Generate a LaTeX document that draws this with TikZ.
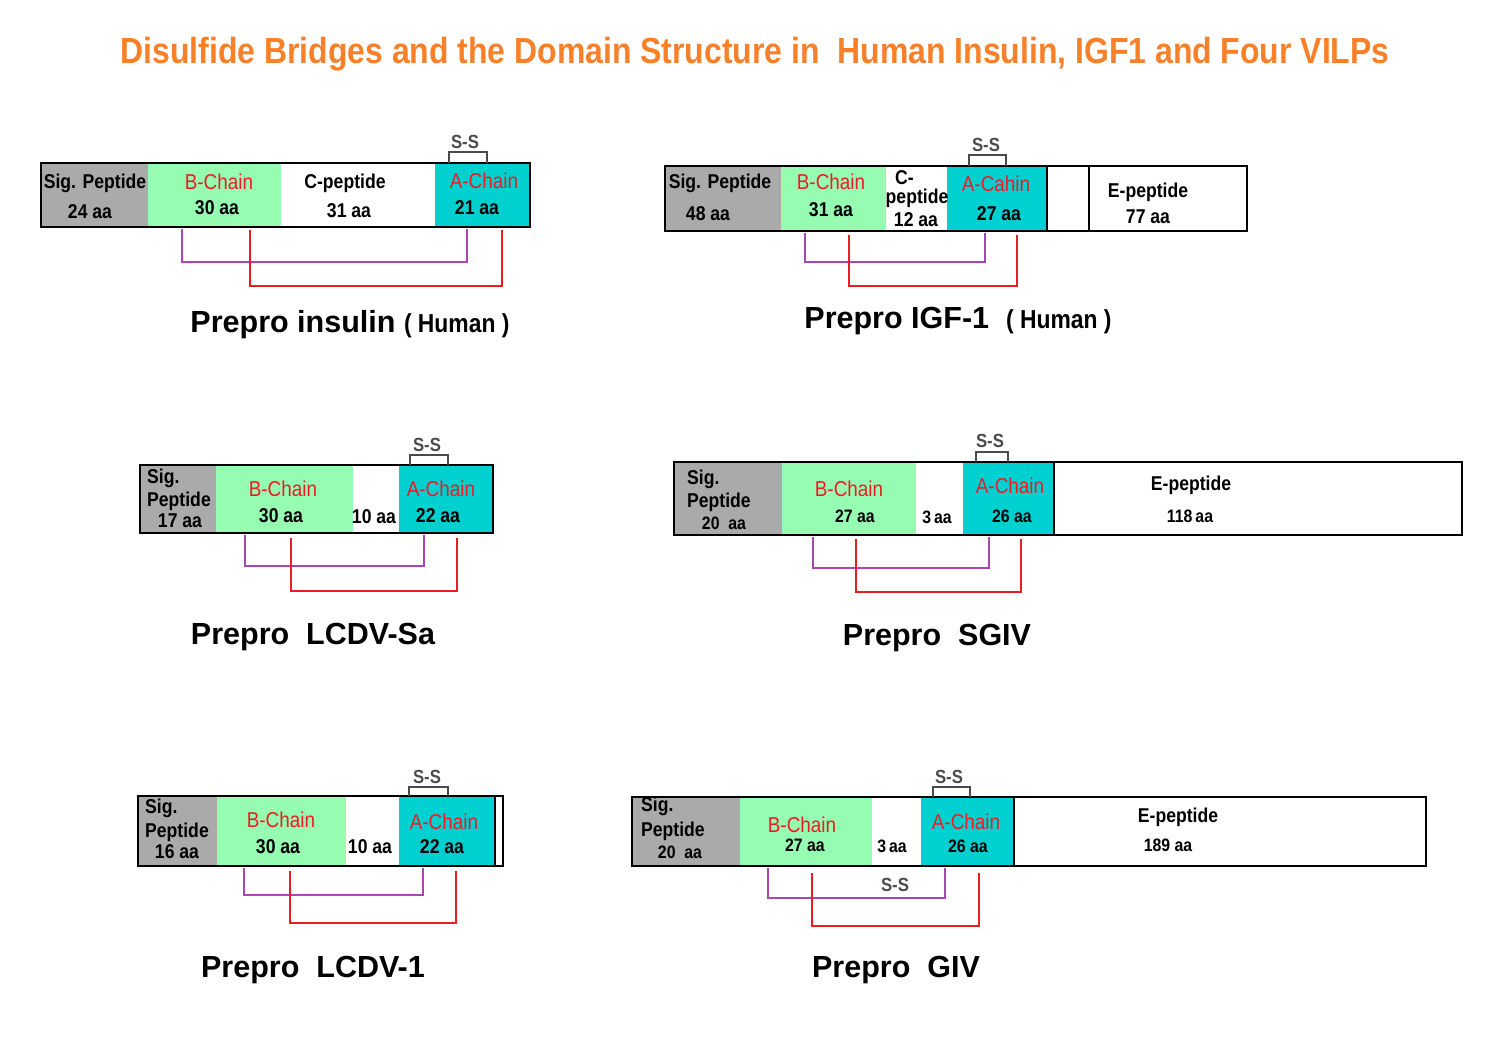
\documentclass[tikz,border=0pt]{standalone}
\usepackage{fontspec}
\setmainfont{Liberation Sans}
\newfontfamily\narrowfont{Liberation Sans}[FakeStretch=0.88]
\usetikzlibrary{positioning}
\definecolor{titleorange}{RGB}{248,128,40}
\definecolor{sigGray}{RGB}{170,170,170}
\definecolor{bGreen}{RGB}{150,252,178}
\definecolor{aCyan}{RGB}{0,208,208}
\definecolor{chainRed}{RGB}{236,28,36}
\definecolor{bondPurple}{RGB}{170,70,180}
\definecolor{bridgeGray}{RGB}{75,75,75}

\tikzset{
  seg/.style={inner sep=0pt, outer sep=0pt, anchor=north west},
  outline/.style={line width=2.6pt},
  sepline/.style={line width=2pt},
  lbl/.style={inner sep=0pt, font=\narrowfont\bfseries\fontsize{20}{22}\selectfont},
  smlbl/.style={inner sep=0pt, font=\narrowfont\bfseries\fontsize{18}{20}\selectfont},
  chain/.style={inner sep=0pt, text=chainRed, font=\narrowfont\fontsize{21.5}{23}\selectfont},
  sstext/.style={inner sep=0pt, text=bridgeGray, font=\narrowfont\bfseries\fontsize{19}{21}\selectfont},
  bracket/.style={draw=bridgeGray, line width=1.6pt},
  bondP/.style={draw=bondPurple, line width=2.3pt},
  bondR/.style={draw=chainRed, line width=2.3pt},
  protlbl/.style={inner sep=0pt, font=\bfseries\fontsize{30.5}{32}\selectfont},
}
\newcommand{\hostlbl}[1]{{\narrowfont\bfseries\fontsize{26}{28}\selectfont #1}}

\begin{document}
\begin{tikzpicture}[x=1pt, y=-1pt]
\useasboundingbox (0,0) rectangle (1500,1063);

% title
\node[text=titleorange, font=\narrowfont\bfseries\fontsize{36.3}{40}\selectfont] (title) at (755,54)
  {Disulfide Bridges and the Domain Structure in \ Human Insulin, IGF1 and Four VILPs};

% ---------------- Prepro insulin (Human)
\node[seg, fill=sigGray, minimum width=107pt, minimum height=64pt] (ins-sig) at (41,163) {};
\node[seg, fill=bGreen, minimum width=133pt, minimum height=64pt] (ins-b) at (148,163) {};
\node[seg, fill=white, minimum width=154pt, minimum height=64pt] (ins-c) at (281,163) {};
\node[seg, fill=aCyan, minimum width=95pt, minimum height=64pt] (ins-a) at (435,163) {};
\draw[outline] (ins-sig.north west) rectangle (ins-a.south east);
\node[lbl] (ins-sig1) at (95,183) {Sig. Peptide};
\node[lbl] (ins-sig2) at (90,212) {24 aa};
\node[chain] (ins-b1) at (219,182) {B-Chain};
\node[lbl] (ins-b2) at (217,208) {30 aa};
\node[lbl] (ins-c1) at (345,183) {C-peptide};
\node[lbl] (ins-c2) at (349,211) {31 aa};
\node[chain] (ins-a1) at (484,181) {A-Chain};
\node[lbl] (ins-a2) at (477,208) {21 aa};
% intra-chain bridge
\coordinate (ins-s1) at (449,163);
\coordinate (ins-s2) at (487,163);
\draw[bracket] (ins-s1) -- ++(0,-11) -| (ins-s2);
\node[sstext] (ins-ss) at (465,142) {S-S};
% inter-chain bridges
\coordinate (ins-cb1) at (182,229);
\coordinate (ins-ca1) at (467,229);
\coordinate (ins-cb2) at (250,230);
\coordinate (ins-ca2) at (502,230);
\draw[bondP] (ins-cb1) -- ++(0,33) -| (ins-ca1);
\draw[bondR] (ins-cb2) -- ++(0,56) -| (ins-ca2);
\node[protlbl] (ins-name) at (350,325) {Prepro insulin \hostlbl{( Human )}};

% ---------------- Prepro IGF-1 (Human)
\node[seg, fill=sigGray, minimum width=116pt, minimum height=65pt] (igf-sig) at (665,166) {};
\node[seg, fill=bGreen, minimum width=105pt, minimum height=65pt] (igf-b) at (781,166) {};
\node[seg, fill=white, minimum width=61pt, minimum height=65pt] (igf-c) at (886,166) {};
\node[seg, fill=aCyan, minimum width=100pt, minimum height=65pt] (igf-a) at (947,166) {};
\node[seg, fill=white, minimum width=42pt, minimum height=65pt] (igf-x) at (1047,166) {};
\node[seg, fill=white, minimum width=158pt, minimum height=65pt] (igf-e) at (1089,166) {};
\draw[sepline] (igf-a.north east) -- (igf-a.south east);
\draw[sepline] (igf-x.north east) -- (igf-x.south east);
\draw[outline] (igf-sig.north west) rectangle (igf-e.south east);
\node[lbl] (igf-sig1) at (720,183) {Sig. Peptide};
\node[lbl] (igf-sig2) at (708,214) {48 aa};
\node[chain] (igf-b1) at (831,182) {B-Chain};
\node[lbl] (igf-b2) at (831,210) {31 aa};
\node[lbl, anchor=west] (igf-c1) at (895,178) {C-};
\node[lbl] (igf-c2) at (917,198) {peptide};
\node[lbl] (igf-c3) at (916,220) {12 aa};
\node[chain] (igf-a1) at (996,184) {A-Cahin};
\node[lbl] (igf-a2) at (999,214) {27 aa};
\node[lbl] (igf-e1) at (1148,192) {E-peptide};
\node[lbl] (igf-e2) at (1148,217) {77 aa};
\coordinate (igf-s1) at (969,166);
\coordinate (igf-s2) at (1006,166);
\draw[bracket] (igf-s1) -- ++(0,-11) -| (igf-s2);
\node[sstext] (igf-ss) at (986,145) {S-S};
\coordinate (igf-cb1) at (805,233);
\coordinate (igf-ca1) at (985,233);
\coordinate (igf-cb2) at (849,235);
\coordinate (igf-ca2) at (1017,235);
\draw[bondP] (igf-cb1) -- ++(0,29) -| (igf-ca1);
\draw[bondR] (igf-cb2) -- ++(0,51) -| (igf-ca2);
\node[protlbl] (igf-name) at (958,321) {Prepro IGF-1 \ \hostlbl{( Human )}};

% ---------------- Prepro LCDV-Sa
\node[seg, fill=sigGray, minimum width=76pt, minimum height=68pt] (sa-sig) at (140,465) {};
\node[seg, fill=bGreen, minimum width=137pt, minimum height=68pt] (sa-b) at (216,465) {};
\node[seg, fill=white, minimum width=46pt, minimum height=68pt] (sa-c) at (353,465) {};
\node[seg, fill=aCyan, minimum width=94pt, minimum height=68pt] (sa-a) at (399,465) {};
\draw[outline] (sa-sig.north west) rectangle (sa-a.south east);
\node[lbl, anchor=west] (sa-sig1) at (147,478) {Sig.};
\node[lbl] (sa-sig2) at (179,501) {Peptide};
\node[lbl] (sa-sig3) at (180,521) {17 aa};
\node[chain] (sa-b1) at (283,489) {B-Chain};
\node[lbl] (sa-b2) at (281,516) {30 aa};
\node[lbl] (sa-c1) at (374,517) {10 aa};
\node[chain] (sa-a1) at (441,489) {A-Chain};
\node[lbl] (sa-a2) at (438,516) {22 aa};
\coordinate (sa-s1) at (410,465);
\coordinate (sa-s2) at (448,465);
\draw[bracket] (sa-s1) -- ++(0,-10) -| (sa-s2);
\node[sstext] (sa-ss) at (427,445) {S-S};
\coordinate (sa-cb1) at (245,535);
\coordinate (sa-ca1) at (424,535);
\coordinate (sa-cb2) at (291,538);
\coordinate (sa-ca2) at (457,538);
\draw[bondP] (sa-cb1) -- ++(0,31) -| (sa-ca1);
\draw[bondR] (sa-cb2) -- ++(0,53) -| (sa-ca2);
\node[protlbl] (sa-name) at (313,637) {Prepro \ LCDV-Sa};

% ---------------- Prepro SGIV
\node[seg, fill=sigGray, minimum width=108pt, minimum height=73pt] (sg-sig) at (674,462) {};
\node[seg, fill=bGreen, minimum width=134pt, minimum height=73pt] (sg-b) at (782,462) {};
\node[seg, fill=white, minimum width=47pt, minimum height=73pt] (sg-c) at (916,462) {};
\node[seg, fill=aCyan, minimum width=91pt, minimum height=73pt] (sg-a) at (963,462) {};
\node[seg, fill=white, minimum width=408pt, minimum height=73pt] (sg-e) at (1054,462) {};
\draw[sepline] (sg-a.north east) -- (sg-a.south east);
\draw[outline] (sg-sig.north west) rectangle (sg-e.south east);
\node[lbl, anchor=west] (sg-sig1) at (687,479) {Sig.};
\node[lbl, anchor=west] (sg-sig2) at (687,502) {Peptide};
\node[smlbl] (sg-sig3) at (724,523) {20 \ aa};
\node[chain] (sg-b1) at (849,489) {B-Chain};
\node[smlbl] (sg-b2) at (855,516) {27 aa};
\node[smlbl] (sg-c1) at (937,517) {3\,aa};
\node[chain] (sg-a1) at (1010,486) {A-Chain};
\node[smlbl] (sg-a2) at (1012,516) {26 aa};
\node[lbl] (sg-e1) at (1191,485) {E-peptide};
\node[smlbl] (sg-e2) at (1190,516) {118\,aa};
\coordinate (sg-s1) at (976,462);
\coordinate (sg-s2) at (1008,462);
\draw[bracket] (sg-s1) -- ++(0,-10) -| (sg-s2);
\node[sstext] (sg-ss) at (990,441) {S-S};
\coordinate (sg-cb1) at (813,537);
\coordinate (sg-ca1) at (989,537);
\coordinate (sg-cb2) at (856,539);
\coordinate (sg-ca2) at (1021,539);
\draw[bondP] (sg-cb1) -- ++(0,31) -| (sg-ca1);
\draw[bondR] (sg-cb2) -- ++(0,53) -| (sg-ca2);
\node[protlbl] (sg-name) at (937,638) {Prepro \ SGIV};

% ---------------- Prepro LCDV-1
\node[seg, fill=sigGray, minimum width=79pt, minimum height=70pt] (l1-sig) at (138,796) {};
\node[seg, fill=bGreen, minimum width=129pt, minimum height=70pt] (l1-b) at (217,796) {};
\node[seg, fill=white, minimum width=53pt, minimum height=70pt] (l1-c) at (346,796) {};
\node[seg, fill=aCyan, minimum width=96pt, minimum height=70pt] (l1-a) at (399,796) {};
\node[seg, fill=white, minimum width=8pt, minimum height=70pt] (l1-x) at (495,796) {};
\draw[sepline] (l1-a.north east) -- (l1-a.south east);
\draw[outline] (l1-sig.north west) rectangle (l1-x.south east);
\node[lbl, anchor=west] (l1-sig1) at (145,808) {Sig.};
\node[lbl] (l1-sig2) at (177,832) {Peptide};
\node[lbl] (l1-sig3) at (177,852) {16 aa};
\node[chain] (l1-b1) at (281,820) {B-Chain};
\node[lbl] (l1-b2) at (278,847) {30 aa};
\node[lbl] (l1-c1) at (370,847) {10 aa};
\node[chain] (l1-a1) at (444,822) {A-Chain};
\node[lbl] (l1-a2) at (442,847) {22 aa};
\coordinate (l1-s1) at (409,796);
\coordinate (l1-s2) at (448,796);
\draw[bracket] (l1-s1) -- ++(0,-9) -| (l1-s2);
\node[sstext] (l1-ss) at (427,777) {S-S};
\coordinate (l1-cb1) at (244,868);
\coordinate (l1-ca1) at (423,868);
\coordinate (l1-cb2) at (290,871);
\coordinate (l1-ca2) at (456,871);
\draw[bondP] (l1-cb1) -- ++(0,27) -| (l1-ca1);
\draw[bondR] (l1-cb2) -- ++(0,52) -| (l1-ca2);
\node[protlbl] (l1-name) at (313,970) {Prepro \ LCDV-1};

% ---------------- Prepro GIV
\node[seg, fill=sigGray, minimum width=108pt, minimum height=69pt] (gv-sig) at (632,797) {};
\node[seg, fill=bGreen, minimum width=132pt, minimum height=69pt] (gv-b) at (740,797) {};
\node[seg, fill=white, minimum width=49pt, minimum height=69pt] (gv-c) at (872,797) {};
\node[seg, fill=aCyan, minimum width=93pt, minimum height=69pt] (gv-a) at (921,797) {};
\node[seg, fill=white, minimum width=412pt, minimum height=69pt] (gv-e) at (1014,797) {};
\draw[sepline] (gv-a.north east) -- (gv-a.south east);
\draw[outline] (gv-sig.north west) rectangle (gv-e.south east);
\node[lbl, anchor=west] (gv-sig1) at (641,806) {Sig.};
\node[lbl, anchor=west] (gv-sig2) at (641,831) {Peptide};
\node[smlbl] (gv-sig3) at (680,852) {20 \ aa};
\node[chain] (gv-b1) at (802,825) {B-Chain};
\node[smlbl] (gv-b2) at (805,845) {27 aa};
\node[smlbl] (gv-c1) at (892,846) {3\,aa};
\node[chain] (gv-a1) at (966,822) {A-Chain};
\node[smlbl] (gv-a2) at (968,846) {26 aa};
\node[lbl] (gv-e1) at (1178,817) {E-peptide};
\node[smlbl] (gv-e2) at (1168,845) {189 aa};
\coordinate (gv-s1) at (933,797);
\coordinate (gv-s2) at (970,797);
\draw[bracket] (gv-s1) -- ++(0,-10) -| (gv-s2);
\node[sstext] (gv-ss) at (949,777) {S-S};
\coordinate (gv-cb1) at (768,868);
\coordinate (gv-ca1) at (945,868);
\coordinate (gv-cb2) at (812,873);
\coordinate (gv-ca2) at (979,873);
\draw[bondP] (gv-cb1) -- ++(0,30) -| (gv-ca1);
\draw[bondR] (gv-cb2) -- ++(0,53) -| (gv-ca2);
\node[sstext] (gv-ss2) at (895,885) {S-S};
\node[protlbl] (gv-name) at (896,970) {Prepro \ GIV};

\end{tikzpicture}
\end{document}
